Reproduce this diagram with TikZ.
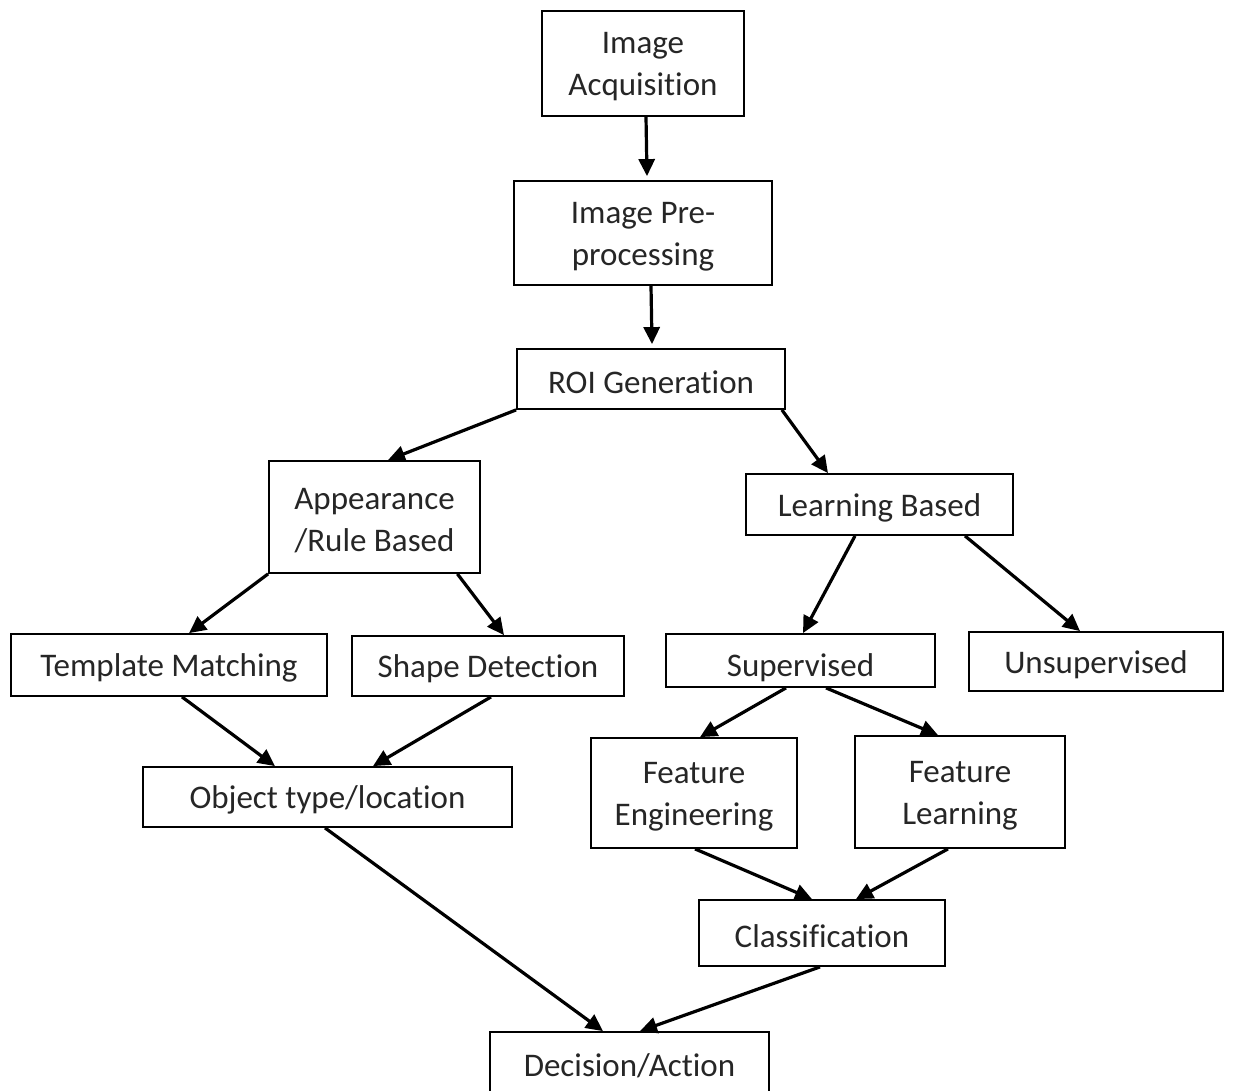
\documentclass[tikz,border=0pt]{standalone}
\usepackage{fontspec}
\setmainfont[Ligatures=NoCommon]{Carlito}
\usetikzlibrary{arrows.meta}
\definecolor{txt}{HTML}{262626}
\begin{document}
\begin{tikzpicture}[x=1pt,y=-1pt,
  box/.style={draw=black,line width=1.8pt,fill=white,inner sep=0pt},
  lbl/.style={inner sep=0pt,align=center,text=txt,font=\fontsize{33}{42}\selectfont},
  conn/.style={line width=3.2pt,-{Triangle[length=17pt,width=16pt]}}]
\useasboundingbox (0,0) rectangle (1234,1090);
\fill[white] (0,0) rectangle (1234,1090);

% boxes
\node[box,minimum width=202pt,minimum height=105pt] (ia)  at (643,63.5)   {};
\node[box,minimum width=258pt,minimum height=104pt] (pp)  at (643,233)    {};
\node[box,minimum width=268pt,minimum height=60pt]  (roi) at (651,379)    {};
\node[box,minimum width=211pt,minimum height=112pt] (app) at (374.5,517)  {};
\node[box,minimum width=267pt,minimum height=61pt]  (lb)  at (879.5,504.5){};
\node[box,minimum width=316pt,minimum height=62pt]  (tm)  at (169,665)    {};
\node[box,minimum width=272pt,minimum height=60pt]  (sd)  at (488,666)    {};
\node[box,minimum width=269pt,minimum height=53pt]  (sup) at (800.5,660.5){};
\node[box,minimum width=254pt,minimum height=59pt]  (uns) at (1096,661.5) {};
\node[box,minimum width=206pt,minimum height=110pt] (fe)  at (694,793)    {};
\node[box,minimum width=210pt,minimum height=112pt] (fl)  at (960,792)    {};
\node[box,minimum width=369pt,minimum height=60pt]  (obj) at (327.5,797)  {};
\node[box,minimum width=246pt,minimum height=66pt]  (cls) at (822,933)    {};
\node[box,minimum width=279pt,minimum height=62pt]  (dec) at (629.5,1063) {};

% labels, set a little below each box centre
\node[lbl] (ia-t)  at ([yshift=-3.5pt]ia.center)  {Image\\Acquisition};
\node[lbl] (pp-t)  at ([yshift=-3.5pt]pp.center)  {Image Pre-\\processing};
\node[lbl] (roi-t) at ([yshift=-3pt]roi.center)   {ROI Generation};
\node[lbl] (app-t) at ([yshift=-3.5pt]app.center) {Appearance\\/Rule Based};
\node[lbl] (lb-t)  at ([yshift=-3pt]lb.center)    {Learning Based};
\node[lbl] (tm-t)  at ([yshift=-3pt]tm.center)    {Template Matching};
\node[lbl] (sd-t)  at ([yshift=-3pt]sd.center)    {Shape Detection};
\node[lbl] (uns-t) at ([yshift=-3pt]uns.center)   {Unsupervised};
\node[lbl] (fe-t)  at ([yshift=-3.5pt]fe.center)  {Feature\\Engineering};
\node[lbl] (fl-t)  at ([yshift=-3.5pt]fl.center)  {Feature\\Learning};
\node[lbl] (obj-t) at ([yshift=-3pt]obj.center)   {Object type/location};
\node[lbl] (cls-t) at ([yshift=-3pt]cls.center)   {Classification};
\node[lbl] (dec-t) at ([yshift=-3pt]dec.center)   {Decision/Action};

% the supervised label sits low and is cut off by the lower edge of its box
\begin{scope}
  \clip ([shift={(0.9pt,-0.9pt)}]sup.north west) rectangle ([shift={(-0.9pt,0.9pt)}]sup.south east);
  \node[lbl,anchor=base] (sup-t) at (800.5,676) {Supervised};
\end{scope}

% connectors
\draw[conn] ([xshift=3pt]ia.south) -- ([xshift=4pt,yshift=4pt]pp.north);
\draw[conn] ([xshift=8pt]pp.south) -- ([xshift=1pt,yshift=4pt]roi.north);
\draw[conn] (roi.south west) -- ([xshift=13.5pt]app.north);
\draw[conn] ([xshift=-4pt]roi.south east) -- ([xshift=-51.5pt]lb.north);
\draw[conn] (app.south west) -- ([xshift=20pt]tm.north);
\draw[conn] ([xshift=-23.5pt]app.south east) -- ([xshift=16pt]sd.north);
\draw[conn] ([xshift=-24.5pt]lb.south) -- ([xshift=2.5pt]sup.north);
\draw[conn] ([xshift=85.5pt]lb.south) -- ([xshift=-16pt]uns.north);
\draw[conn] ([xshift=13pt]tm.south) -- ([xshift=-52.5pt]obj.north);
\draw[conn] ([xshift=3pt]sd.south) -- ([xshift=45.5pt]obj.north);
\draw[conn] ([xshift=-14.5pt]sup.south) -- ([xshift=6pt]fe.north);
\draw[conn] ([xshift=25.5pt]sup.south) -- ([xshift=-22pt]fl.north);
\draw[conn] ([xshift=1pt]fe.south) -- ([xshift=-10pt]cls.north);
\draw[conn] ([xshift=-12pt]fl.south) -- ([xshift=34pt]cls.north);
\draw[conn] ([xshift=-2.5pt]obj.south) -- ([xshift=-26.5pt]dec.north);
\draw[conn] ([xshift=-2pt]cls.south) -- ([xshift=10.5pt]dec.north);
\end{tikzpicture}
\end{document}
